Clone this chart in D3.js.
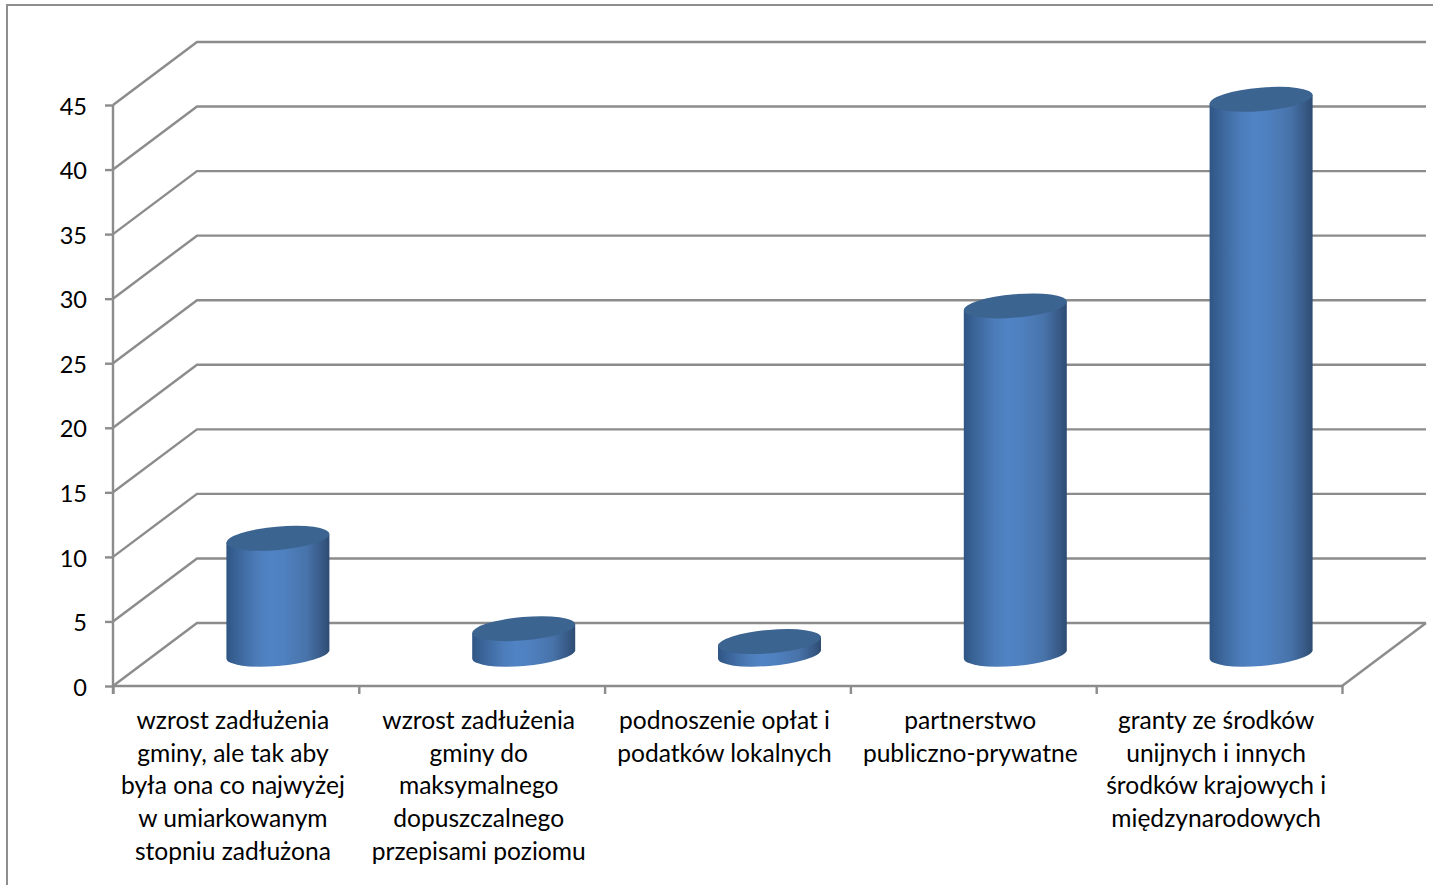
<!DOCTYPE html>
<html><head><meta charset="utf-8">
<script src="https://cdn.jsdelivr.net/npm/d3@7"></script>
<style>html,body{margin:0;padding:0;background:#fff;overflow:hidden}svg{display:block}text{font-family:Lato,"Open Sans",sans-serif;fill:#000}</style>
</head><body><svg id="c" width="1433" height="885"></svg>
<script>
const categories = ["wzrost zadłużenia gminy, ale tak aby była ona co najwyżej w umiarkowanym stopniu zadłużona","wzrost zadłużenia gminy do maksymalnego dopuszczalnego przepisami poziomu","podnoszenie opłat i podatków lokalnych","partnerstwo publiczno-prywatne","granty ze środków unijnych i innych środków krajowych i międzynarodowych"];
const categoryLines = [
 ["wzrost zadłużenia","gminy, ale tak aby","była ona co najwyżej","w umiarkowanym","stopniu zadłużona"],
 ["wzrost zadłużenia","gminy do","maksymalnego","dopuszczalnego","przepisami poziomu"],
 ["podnoszenie opłat i","podatków lokalnych"],
 ["partnerstwo","publiczno-prywatne"],
 ["granty ze środków","unijnych i innych","środków krajowych i","międzynarodowych"]];
const values = [9,2,1,27,43];
const yTicks = [0,5,10,15,20,25,30,35,40,45];

const GRID="#8c8c8c";
const LW=2.4;
const svg=d3.select("#c");
svg.append("rect").attr("x",7).attr("y",5).attr("width",1440).attr("height",900).attr("fill","#fff").attr("stroke","#8e8e8e").attr("stroke-width",2);

const y=d3.scaleLinear().domain([0,45]).range([686,105]);
const x=d3.scaleBand().domain(categories).range([113,1342]);
const depthX=84, depthY=63;

// walls
const walls=svg.append("g").attr("fill","none").attr("stroke",GRID).attr("stroke-width",LW);
yTicks.forEach(t=>{
  walls.append("path").attr("d",d3.line()([[x.range()[0],y(t)],[x.range()[0]+depthX,y(t)-depthY],[x.range()[1]+depthX,y(t)-depthY]]));
});
walls.append("path").attr("d",d3.line()([[x.range()[1],y(0)],[x.range()[1]+depthX,y(0)-depthY]]));

// axes
const axY=svg.append("g").attr("transform",`translate(${x.range()[0]},0)`)
  .call(d3.axisLeft(y).tickValues(yTicks).tickSize(8).tickPadding(18).tickSizeOuter(0));
const xTickScale=d3.scaleLinear().domain([0,categories.length]).range(x.range());
const axX=svg.append("g").attr("transform",`translate(0,${y(0)})`)
  .call(d3.axisBottom(xTickScale).tickValues(d3.range(categories.length+1)).tickSize(8).tickSizeOuter(0).tickFormat(""));
[axY,axX].forEach(a=>{a.selectAll("path,line").attr("stroke",GRID).attr("stroke-width",LW);a.select(".domain").attr("stroke",GRID)});
axY.selectAll("text").attr("font-size",23.6).attr("dy","0.39em").style("font-family","Lato");
axX.select(".domain").attr("d",`M${x.range()[0]},0H${x.range()[1]}`);
axY.select(".domain").attr("d",`M0,${y(45)}V${y(0)+8}`);

// cylinders
const defs=svg.append("defs");
const g=defs.append("linearGradient").attr("id","cyl");
[[0,"#2f5583"],[.1,"#3a6498"],[.3,"#4c7cb9"],[.42,"#5083c4"],[.55,"#4f81c0"],[.78,"#4873aa"],[.92,"#385b88"],[1,"#2e4c72"]]
 .forEach(s=>g.append("stop").attr("offset",s[0]).attr("stop-color",s[1]));
const rx=51.7, ry=11.7, rot=-5, hw=51.5, ho=4.3;
const bars=svg.append("g");
values.forEach((v,i)=>{
  const cx=x(categories[i])+x.bandwidth()/2+depthX/2;
  const yb=y(0)-depthY/2, yt=y(v)-depthY/2;
  bars.append("path").attr("fill","url(#cyl)")
    .attr("d",`M${cx-hw},${yt+ho}L${cx-hw},${yb+ho}A${rx},${ry} ${rot} 0 0 ${cx+hw},${yb-ho}L${cx+hw},${yt-ho}Z`);
  bars.append("ellipse").attr("cx",cx).attr("cy",yt).attr("rx",rx).attr("ry",ry)
    .attr("transform",`rotate(${rot} ${cx} ${yt})`).attr("fill","#3c6491");
});

// category labels
const lab=svg.append("g").attr("text-anchor","middle").attr("font-size",24.6);
categoryLines.forEach((ls,i)=>{
  const cx=x(categories[i])+x.bandwidth()/2-3;
  ls.forEach((l,j)=>lab.append("text").attr("x",cx).attr("y",728.8+j*32.7).text(l));
});
</script></body></html>
